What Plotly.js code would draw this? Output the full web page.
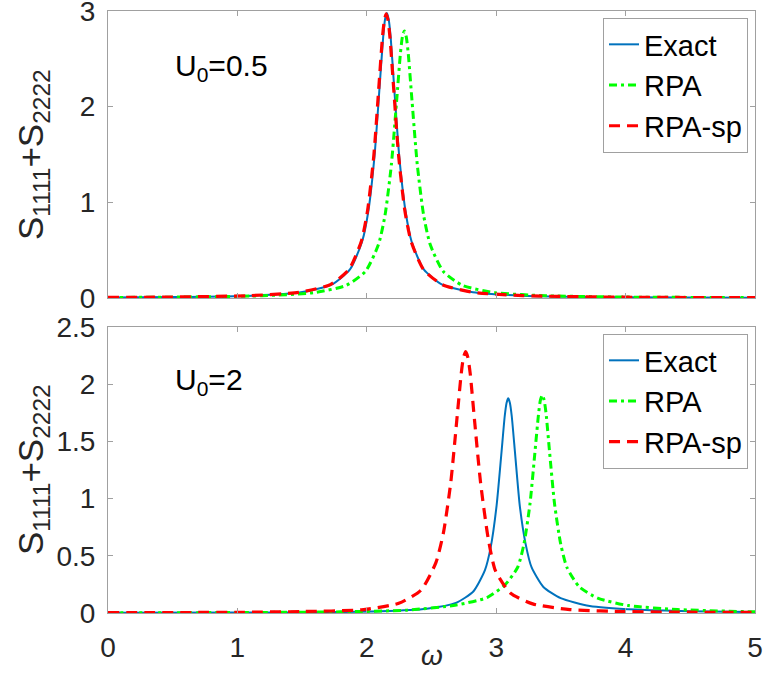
<!DOCTYPE html>
<html>
<head>
<meta charset="utf-8">
<script src="https://cdn.plot.ly/plotly-3.0.1.min.js"></script>
<style>html,body{margin:0;padding:0;background:#fff;}#chart{width:764px;height:680px;}</style>
</head>
<body>
<div id="chart"></div>
<script>
// ---------- Top panel (U0 = 0.5) ----------
const topExactW = [0, 0.5, 1.110, 1.490, 1.728, 1.870, 1.965, 2.013, 2.060, 2.098, 2.127, 2.141, 2.155, 2.169, 2.184, 2.212, 2.250, 2.298, 2.345, 2.440, 2.583, 2.820, 3.200, 4.0, 5.0];
const topExactS = [0.0058, 0.0098, 0.0244, 0.0596, 0.140, 0.298, 0.596, 0.917, 1.490, 2.191, 2.734, 2.914, 2.980, 2.914, 2.734, 2.191, 1.490, 0.917, 0.596, 0.298, 0.140, 0.0596, 0.0244, 0.0079, 0.0033];

const topRpaW = [0, 0.5, 1.19, 1.59, 1.84, 1.99, 2.09, 2.14, 2.19, 2.23, 2.26, 2.275, 2.29, 2.305, 2.32, 2.35, 2.39, 2.44, 2.49, 2.59, 2.74, 2.99, 3.39, 4.0, 5.0];
const topRpaS = [0.0053, 0.0087, 0.0229, 0.0558, 0.1313, 0.279, 0.558, 0.858, 1.395, 2.051, 2.560, 2.729, 2.790, 2.729, 2.560, 2.051, 1.395, 0.858, 0.558, 0.279, 0.1313, 0.0558, 0.0229, 0.0095, 0.0038];

const topSpW = [0, 0.5, 1.094, 1.478, 1.718, 1.862, 1.958, 2.006, 2.054, 2.092, 2.121, 2.136, 2.150, 2.164, 2.179, 2.208, 2.246, 2.294, 2.342, 2.438, 2.582, 2.822, 3.206, 4.0, 5.0];
const topSpS = [0.0059, 0.0100, 0.0244, 0.0594, 0.140, 0.297, 0.594, 0.914, 1.485, 2.184, 2.725, 2.905, 2.970, 2.905, 2.725, 2.184, 1.485, 0.914, 0.594, 0.297, 0.140, 0.0594, 0.0244, 0.0080, 0.0034];

// ---------- Bottom panel (U0 = 2) ----------
const botExactW = [0, 1.0, 1.6, 2.103, 2.463, 2.688, 2.823, 2.913, 2.958, 3.003, 3.039, 3.066, 3.080, 3.093, 3.106, 3.120, 3.147, 3.183, 3.228, 3.273, 3.363, 3.498, 3.723, 4.083, 4.5, 5.0];
const botExactS = [0.0016, 0.0035, 0.0068, 0.0154, 0.0375, 0.0883, 0.188, 0.375, 0.578, 0.939, 1.380, 1.722, 1.836, 1.877, 1.836, 1.722, 1.380, 0.930, 0.60, 0.40, 0.23, 0.13, 0.062, 0.030, 0.015, 0.008];

const botRpaW = [0, 1.0, 1.8, 2.311, 2.691, 2.929, 3.071, 3.166, 3.214, 3.261, 3.299, 3.328, 3.342, 3.356, 3.370, 3.385, 3.413, 3.451, 3.499, 3.546, 3.641, 3.784, 4.021, 4.401, 5.0];
const botRpaS = [0.002, 0.004, 0.010, 0.025, 0.07, 0.135, 0.25, 0.40, 0.60, 0.953, 1.401, 1.748, 1.863, 1.905, 1.863, 1.748, 1.401, 0.953, 0.60, 0.40, 0.23, 0.13, 0.065, 0.03, 0.01];

const botSpW = [0, 1.0, 1.499, 1.959, 2.247, 2.419, 2.534, 2.592, 2.649, 2.695, 2.730, 2.747, 2.764, 2.781, 2.799, 2.833, 2.879, 2.937, 2.994, 3.109, 3.282, 3.569, 4.029, 4.5, 5.0];
const botSpS = [0.003, 0.006, 0.013, 0.028, 0.085, 0.20, 0.44, 0.70, 1.142, 1.679, 2.095, 2.234, 2.284, 2.234, 2.095, 1.679, 1.142, 0.66, 0.37, 0.175, 0.08, 0.03, 0.012, 0.007, 0.005];

const seriesNames = ["Exact", "RPA", "RPA-sp"];
const panelLabels = ["U<sub>0</sub>=0.5", "U<sub>0</sub>=2"];
const xTicks = [0, 1, 2, 3, 4, 5];
const yTicksTop = [0, 1, 2, 3];
const yTicksBot = [0, 0.5, 1, 1.5, 2, 2.5];
const yTitle = "S<sub>1111</sub>+S<sub>2222</sub>";
const xTitle = "<i>ω</i>";

const FONT = "Liberation Sans, Arial, sans-serif";
const styles = [
  {color: "#0072BD", width: 2, dash: "solid", shape: "spline", smoothing: 0.6},
  {color: "#00FF00", width: 3, dash: "8px,4px,3px,4px", shape: "spline", smoothing: 0.6},
  {color: "#FF0000", width: 3.2, dash: "11px,7px", shape: "spline", smoothing: 0.6}
];

function tr(x, y, i, xa, ya, leg) {
  return {x: x, y: y, type: "scatter", mode: "lines", name: seriesNames[i],
    xaxis: xa, yaxis: ya, legend: leg, line: styles[i], hoverinfo: "skip"};
}

const data = [
  tr(topExactW, topExactS, 0, "x", "y", "legend"),
  tr(topRpaW, topRpaS, 1, "x", "y", "legend"),
  tr(topSpW, topSpS, 2, "x", "y", "legend"),
  tr(botExactW, botExactS, 0, "x2", "y2", "legend2"),
  tr(botRpaW, botRpaS, 1, "x2", "y2", "legend2"),
  tr(botSpW, botSpS, 2, "x2", "y2", "legend2")
];

const axCommon = {
  showline: true, linecolor: "#a0a0a0", linewidth: 1, mirror: "allticks",
  ticks: "inside", ticklen: 5, tickcolor: "#a0a0a0", tickwidth: 1,
  showgrid: false, zeroline: false, ticklabeloverflow: "allow",
  tickfont: {family: FONT, size: 28, color: "#262626"}
};

const legCommon = {
  xref: "paper", yref: "paper", xanchor: "right", yanchor: "top",
  bgcolor: "#ffffff", bordercolor: "#a0a0a0", borderwidth: 1,
  font: {family: FONT, size: 29, color: "#000000"},
  tracegroupgap: 0, itemwidth: 30
};

const layout = {
  width: 764, height: 680,
  margin: {l: 108, r: 9, t: 11, b: 67},
  paper_bgcolor: "#ffffff", plot_bgcolor: "#ffffff",
  font: {family: FONT},
  showlegend: true,
  xaxis: Object.assign({}, axCommon, {domain: [0, 1], range: [0, 5], anchor: "y", tickvals: xTicks, showticklabels: false}),
  yaxis: Object.assign({}, axCommon, {domain: [0.5233, 1], range: [0, 3], anchor: "x", tickvals: yTicksTop, ticklabelstandoff: 6}),
  xaxis2: Object.assign({}, axCommon, {domain: [0, 1], range: [0, 5], anchor: "y2", tickvals: xTicks, ticklabelstandoff: 9}),
  yaxis2: Object.assign({}, axCommon, {domain: [0, 0.4751], range: [0, 2.5], anchor: "x2", tickvals: yTicksBot, ticklabelstandoff: 6}),
  legend: Object.assign({}, legCommon, {x: 0.9892, y: 0.9884}),
  legend2: Object.assign({}, legCommon, {x: 0.9892, y: 0.4635}),
  annotations: [
    {xref: "x", yref: "y", x: 0.5, y: 2.41, xanchor: "left", yanchor: "middle", showarrow: false,
     text: panelLabels[0], font: {family: FONT, size: 30, color: "#000000"}},
    {xref: "x2", yref: "y2", x: 0.5, y: 2.02, xanchor: "left", yanchor: "middle", showarrow: false,
     text: panelLabels[1], font: {family: FONT, size: 30, color: "#000000"}},
    {xref: "paper", yref: "paper", x: -0.1159, y: 0.7608, xanchor: "center", yanchor: "middle", showarrow: false,
     textangle: -90, text: yTitle, font: {family: FONT, size: 35, color: "#262626"}},
    {xref: "paper", yref: "paper", x: -0.1159, y: 0.2375, xanchor: "center", yanchor: "middle", showarrow: false,
     textangle: -90, text: yTitle, font: {family: FONT, size: 35, color: "#262626"}},
    {xref: "paper", yref: "paper", x: 0.5, y: -0.0698, xanchor: "center", yanchor: "middle", showarrow: false,
     text: xTitle, font: {family: FONT, size: 28, color: "#262626"}}
  ]
};

Plotly.newPlot("chart", data, layout, {staticPlot: true, displayModeBar: false});
</script>
</body>
</html>
